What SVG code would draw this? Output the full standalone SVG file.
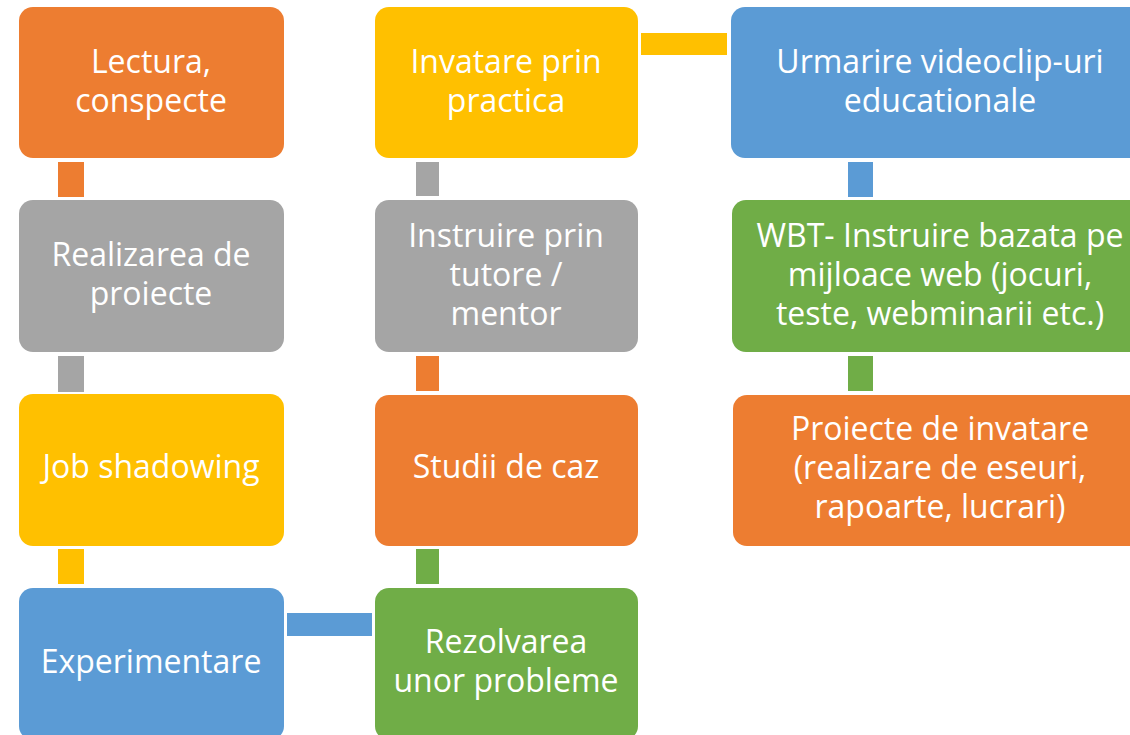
<svg xmlns="http://www.w3.org/2000/svg" width="1130" height="735" viewBox="0 0 1130 735">
<style>
.n text{font-family:"Open Sans","Noto Sans",sans-serif;font-size:32px;fill:#ffffff;text-anchor:middle}
.or{fill:#ED7D31}.gr{fill:#A5A5A5}.ye{fill:#FFC000}.bl{fill:#5B9BD5}.gn{fill:#70AD47}
</style>
<rect width="1130" height="735" fill="#ffffff"/>
<g id="connectors">
<rect class="or" x="58" y="162" width="26" height="35"/>
<rect class="gr" x="58" y="356" width="26" height="36"/>
<rect class="ye" x="58" y="549" width="26" height="35"/>
<rect class="bl" x="287" y="613" width="85" height="23"/>
<rect class="gn" x="416" y="549" width="23" height="35"/>
<rect class="or" x="416" y="356" width="23" height="35"/>
<rect class="gr" x="416" y="162" width="23" height="34"/>
<rect class="ye" x="641" y="33" width="86" height="22"/>
<rect class="bl" x="848" y="162" width="25" height="35"/>
<rect class="gn" x="848" y="356" width="25" height="35"/>
</g>
<g id="n1" class="n"><rect class="or" x="19" y="7" width="265" height="151" rx="14"/><text x="151" y="73">Lectura,</text><text x="151" y="112">conspecte</text></g>
<g id="n2" class="n"><rect class="gr" x="19" y="200" width="265" height="152" rx="14"/><text x="151" y="266">Realizarea de</text><text x="151" y="305">proiecte</text></g>
<g id="n3" class="n"><rect class="ye" x="19" y="394" width="265" height="152" rx="14"/><text x="151" y="478">Job shadowing</text></g>
<g id="n4" class="n"><rect class="bl" x="19" y="588" width="265" height="152" rx="14"/><text x="151" y="673">Experimentare</text></g>
<g id="n5" class="n"><rect class="gn" x="375" y="588" width="263" height="152" rx="14"/><text x="506" y="653">Rezolvarea</text><text x="506" y="692">unor probleme</text></g>
<g id="n6" class="n"><rect class="or" x="375" y="395" width="263" height="151" rx="14"/><text x="506" y="478">Studii de caz</text></g>
<g id="n7" class="n"><rect class="gr" x="375" y="200" width="263" height="152" rx="14"/><text x="506" y="247">Instruire prin</text><text x="506" y="286">tutore /</text><text x="506" y="325">mentor</text></g>
<g id="n8" class="n"><rect class="ye" x="375" y="7" width="263" height="151" rx="14"/><text x="506" y="73">Invatare prin</text><text x="506" y="112">practica</text></g>
<g id="n9" class="n"><rect class="bl" x="731" y="7" width="418" height="151" rx="14"/><text x="940" y="73">Urmarire videoclip-uri</text><text x="940" y="112">educationale</text></g>
<g id="n10" class="n"><rect class="gn" x="732" y="200" width="417" height="152" rx="14"/><text x="940" y="247">WBT- Instruire bazata pe</text><text x="940" y="286">mijloace web (jocuri,</text><text x="940" y="325">teste, webminarii etc.)</text></g>
<g id="n11" class="n"><rect class="or" x="733" y="395" width="416" height="151" rx="14"/><text x="940" y="440">Proiecte de invatare</text><text x="940" y="479">(realizare de eseuri,</text><text x="940" y="518">rapoarte, lucrari)</text></g>
</svg>
